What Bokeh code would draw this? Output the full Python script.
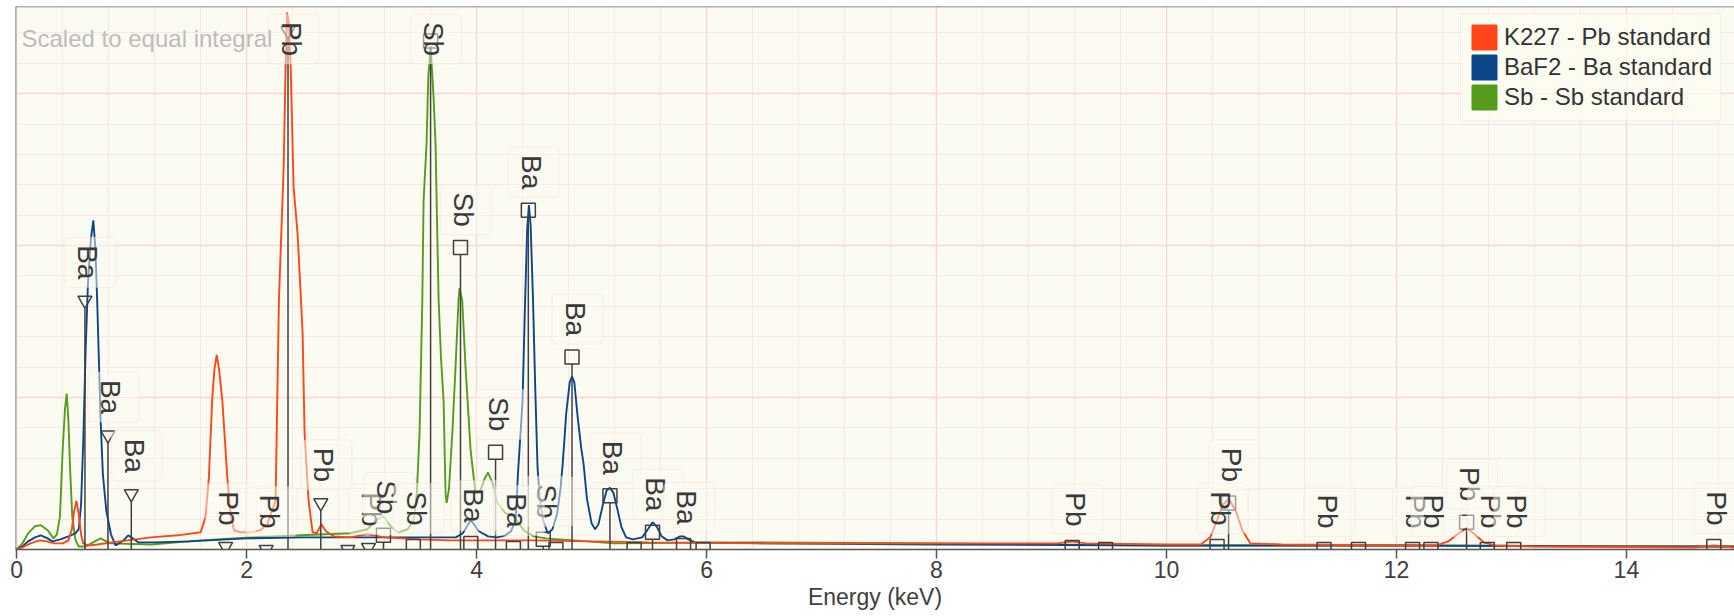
import math
from bokeh.plotting import figure
from bokeh.models import Range1d, SingleIntervalTicker, Span, BoxAnnotation, Label
from bokeh.embed import file_html
from bokeh.resources import INLINE

# ---------------- data ----------------
# K227 - Pb standard (energy keV, scaled counts)
pb_keV = [0.00, 0.05, 0.12, 0.20, 0.26, 0.33, 0.40, 0.45, 0.48, 0.50, 0.52, 0.54, 0.56, 0.58, 0.62,
          0.70, 0.90, 1.17, 1.40, 1.60, 1.643, 1.672, 1.70, 1.72, 1.74, 1.76, 1.789, 1.81, 1.832, 1.86,
          1.89, 1.95, 2.03, 2.12, 2.18, 2.252, 2.281, 2.322, 2.339, 2.352, 2.368, 2.383, 2.409, 2.443, 2.47,
          2.487, 2.504, 2.539, 2.574, 2.61, 2.65, 2.69, 2.76, 2.90, 3.05, 3.20, 3.50, 3.77, 4.50, 5.50,
          6.50, 8.00, 9.05, 9.18, 9.30, 10.00, 10.30, 10.38, 10.44, 10.49, 10.54, 10.60, 10.66, 10.73, 11.00,
          12.00, 12.35, 12.45, 12.53, 12.61, 12.68, 12.76, 12.85, 13.20, 14.60, 14.76, 14.94]
pb_counts = [0, 2, 6, 9, 8, 6, 6, 9, 20, 38, 48, 35, 15, 6, 4,
             5, 8, 12, 14, 17, 32, 71, 147, 178, 192, 178, 147, 110, 71, 35,
             19, 17, 17, 19, 25, 48, 246, 377, 476, 530, 520, 476, 357, 312, 253,
             213, 115, 48, 17, 16, 25, 18, 13, 12, 15, 12, 10, 9, 9, 7,
             6, 6, 6, 8, 6, 5, 5, 12, 29, 44, 50, 39, 19, 6, 5,
             4, 4, 8, 15, 21, 15, 7, 4, 3, 2, 4, 2]

# BaF2 - Ba standard
ba_keV = [0.00, 0.05, 0.10, 0.16, 0.21, 0.27, 0.31, 0.38, 0.45, 0.51, 0.54, 0.56, 0.58, 0.60, 0.62,
          0.645, 0.667, 0.685, 0.70, 0.715, 0.73, 0.75, 0.78, 0.82, 0.86, 0.93, 0.97, 1.01, 1.06, 1.20,
          1.50, 2.00, 2.50, 3.00, 3.50, 3.82, 3.88, 3.95, 4.02, 4.10, 4.18, 4.25, 4.30, 4.34, 4.36,
          4.40, 4.42, 4.44, 4.455, 4.47, 4.49, 4.51, 4.53, 4.55, 4.58, 4.62, 4.66, 4.70, 4.73, 4.75,
          4.78, 4.81, 4.83, 4.85, 4.88, 4.91, 4.93, 4.96, 5.00, 5.03, 5.06, 5.10, 5.13, 5.16, 5.19,
          5.22, 5.26, 5.30, 5.36, 5.44, 5.49, 5.53, 5.57, 5.61, 5.66, 5.72, 5.77, 5.80, 5.84, 5.90,
          6.50, 8.00, 10.00, 12.00, 14.00, 14.94]
ba_counts = [0, 3, 8, 12, 14, 11, 8, 10, 13, 16, 20, 44, 109, 197, 262,
             306, 325, 296, 247, 188, 128, 74, 38, 15, 4, 9, 14, 11, 7, 7,
             8, 11, 12, 12, 12, 12, 16, 29, 18, 13, 12, 14, 18, 30, 75,
             147, 237, 316, 340, 320, 250, 160, 81, 50, 28, 16, 20, 35, 60, 86,
             135, 165, 171, 165, 130, 100, 85, 50, 26, 20, 25, 45, 58, 61, 56,
             42, 22, 12, 10, 12, 20, 27, 22, 13, 9, 10, 13, 13, 10, 7,
             6, 5, 4, 4, 3, 3]

# Sb - Sb standard
sb_keV = [0.00, 0.05, 0.10, 0.16, 0.21, 0.27, 0.32, 0.35, 0.376, 0.40, 0.42, 0.435, 0.45, 0.465, 0.484,
          0.51, 0.54, 0.60, 0.68, 0.73, 0.78, 0.82, 1.17, 1.60, 2.03, 2.47, 2.90, 3.05, 3.12, 3.19,
          3.26, 3.32, 3.40, 3.45, 3.48, 3.504, 3.528, 3.539, 3.565, 3.58, 3.60, 3.626, 3.643, 3.658, 3.67,
          3.69, 3.713, 3.73, 3.74, 3.76, 3.789, 3.817, 3.843, 3.852, 3.875, 3.904, 3.948, 3.99, 4.03, 4.07,
          4.10, 4.14, 4.18, 4.25, 4.32, 4.37, 4.42, 4.50, 4.60, 5.20, 6.30, 8.00, 10.00, 12.00, 14.94]
sb_counts = [0, 6, 16, 23, 24, 19, 11, 15, 32, 98, 138, 154, 128, 79, 32,
             10, 3, 3, 8, 11, 8, 6, 5, 9, 12, 14, 16, 20, 28, 33,
             22, 17, 20, 28, 55, 115, 246, 344, 401, 466, 497, 446, 401, 312, 246,
             190, 147, 55, 46, 60, 115, 180, 246, 258, 246, 180, 98, 56, 57, 70,
             76, 65, 46, 36, 33, 25, 18, 13, 11, 6, 7, 6, 4, 4, 3]

# emission line markers: energy, marker height, label
pbM_keV = [1.817, 2.17, 2.36, 2.645, 2.88, 3.06]
pbM_height = [3, 0, 512, 46, 0, 2]
pbM_label = ["Pb", "Pb", "Pb", "Pb", "", "Pb"]

sbL_keV = [3.19, 3.45, 3.60, 3.86, 4.165, 4.58]
sbL_height = [14, 3, 502, 298, 96, 10]
sbL_label = ["Sb", "Sb", "Sb", "Sb", "Sb", "Sb"]

baM_keV = [0.594, 0.794, 0.997]
baM_height = [246, 113, 55]
baM_label = ["Ba", "Ba", "Ba"]

baL_keV = [3.95, 4.32, 4.45, 4.69, 4.83, 5.16, 5.37, 5.53, 5.80, 5.97]
baL_height = [6, 1, 335, 0, 190, 53, 0, 17, 4, 0]
baL_label = ["Ba", "Ba", "Ba", "", "Ba", "Ba", "", "Ba", "Ba", ""]

pbL_keV = [9.18, 9.47, 10.44, 10.54, 11.37, 11.67, 12.14, 12.30, 12.61, 12.79, 13.02, 14.76]
pbL_height = [2, 0, 3, 46, 0, 0, 0, 0, 27, 0, 0, 3]
pbL_label = ["Pb", "", "Pb", "Pb", "Pb", "", "Pb", "Pb", "Pb", "Pb", "Pb", "Pb"]

series_names = ["K227 - Pb standard", "BaF2 - Ba standard", "Sb - Sb standard"]
x_ticks_interval = 2

# ---------------- style ----------------
FONT = "Liberation Sans"
BG = "#fcfbf1"
RED, BLUE, GREEN = "#ff4719", "#0b4788", "#579b1e"
INK = "#404040"

X_START, X_END = -0.01, 14.94
Y_START, Y_END = 0, 536
FRAME_W, FRAME_H = 1719, 543
PXX = FRAME_W / (X_END - X_START)
PXY = FRAME_H / (Y_END - Y_START)

p = figure(frame_width=FRAME_W, frame_height=FRAME_H,
           x_range=Range1d(X_START, X_END), y_range=Range1d(Y_START, Y_END),
           min_border_left=15, min_border_right=0, min_border_top=6, min_border_bottom=67,
           output_backend="svg", toolbar_location=None,
           background_fill_color=BG, border_fill_color="white", outline_line_color=None)
p.title.visible = False
p.yaxis.visible = False

xt = SingleIntervalTicker(interval=x_ticks_interval, num_minor_ticks=5)
ax = p.xaxis[0]
ax.ticker = xt
ax.axis_label = "Energy (keV)"
ax.axis_label_text_font = FONT
ax.axis_label_text_font_size = "23px"
ax.axis_label_text_font_style = "normal"
ax.axis_label_text_color = INK
ax.axis_label_standoff = 3
ax.major_label_text_font = FONT
ax.major_label_text_font_size = "23px"
ax.major_label_text_color = INK
ax.major_label_standoff = 2
ax.axis_line_color = "#555555"
ax.axis_line_width = 1.5
ax.major_tick_line_color = "#555555"
ax.major_tick_line_width = 1.5
ax.major_tick_in = 0
ax.major_tick_out = 9
ax.minor_tick_line_color = None

p.xgrid.ticker = xt
p.ygrid.ticker = SingleIntervalTicker(interval=150, num_minor_ticks=5)
for g in (p.xgrid[0], p.ygrid[0]):
    g.grid_line_color = "#f9d6d6"
    g.grid_line_width = 1.3
    g.minor_grid_line_color = "#fae6e6"
    g.minor_grid_line_width = 1

# frame edges (top and left)
p.add_layout(Span(location=Y_END, dimension="width", line_color="#666666", line_width=1.5))
p.add_layout(Span(location=X_START, dimension="height", line_color="#666666", line_width=1.5))

# spectra
p.line(sb_keV, sb_counts, line_color=GREEN, line_width=1.9)
p.line(ba_keV, ba_counts, line_color=BLUE, line_width=1.9)
p.line(pb_keV, pb_counts, line_color=RED, line_width=1.9)

# legend swatches: one quad each, placed beyond the visible x-range so only the legend shows it
for name, c in zip(series_names, [RED, BLUE, GREEN]):
    p.quad(left=[X_END + 1], right=[X_END + 2], bottom=[Y_START], top=[Y_END],
           fill_color=c, line_color=c, line_width=2, legend_label=name)

leg = p.legend[0]
leg.location = (1445, 428)
leg.glyph_width = 30
leg.glyph_height = 30
leg.label_height = 30
leg.label_text_font = FONT
leg.label_text_font_size = "24px"
leg.label_text_color = "#333333"
leg.label_standoff = 5
leg.padding = 8
leg.spacing = 0
leg.margin = 0
leg.border_line_color = "#f7dcdc"
leg.border_line_width = 1.5
leg.background_fill_color = BG
leg.background_fill_alpha = 0.85

groups = [
    (pbM_keV, pbM_height, pbM_label, "inverted_triangle"),
    (sbL_keV, sbL_height, sbL_label, "square"),
    (baM_keV, baM_height, baM_label, "inverted_triangle"),
    (baL_keV, baL_height, baL_label, "square"),
    (pbL_keV, pbL_height, pbL_label, "square"),
]

# stems and markers
for ks, hs, labs, mk in groups:
    gap = 8 if mk == "inverted_triangle" else 7
    tops = [h - gap / PXY for h in hs]
    p.segment(x0=ks, y0=[0] * len(ks), x1=ks, y1=tops, line_color=INK, line_width=1.5)
    p.scatter(ks, hs, marker=mk, size=14, fill_color=None, line_color=INK, line_width=1.5)

# label boxes and texts, drawn one after the other
for ks, hs, labs, mk in groups:
    for e, h, lab in zip(ks, hs, labs):
        if not lab:
            continue
        cy_px = min(h * PXY + 38, FRAME_H - 32.5)
        cy = cy_px / PXY
        cx = e + 5.5 / PXX
        hw = 25.5 / PXX
        hh = 25 / PXY
        p.add_layout(BoxAnnotation(left=cx - hw, right=cx + hw, bottom=cy - hh, top=cy + hh,
                                   fill_color=BG, fill_alpha=0.5, line_color="#f7d8d8",
                                   line_width=1.2, border_radius=5))
        p.add_layout(Label(x=e, y=cy, x_offset=3, text=lab, angle=-math.pi / 2,
                           text_align="center", text_baseline="middle",
                           text_font=FONT, text_font_size="28px", text_color="#3a3a3a"))

p.add_layout(Label(x=6, y=FRAME_H - 31.5, x_units="screen", y_units="screen",
                   text="Scaled to equal integral", text_font=FONT, text_font_size="24px",
                   text_color="#bcbcbc", text_baseline="alphabetic"))

open("out.html", "w").write(file_html(p, INLINE))
